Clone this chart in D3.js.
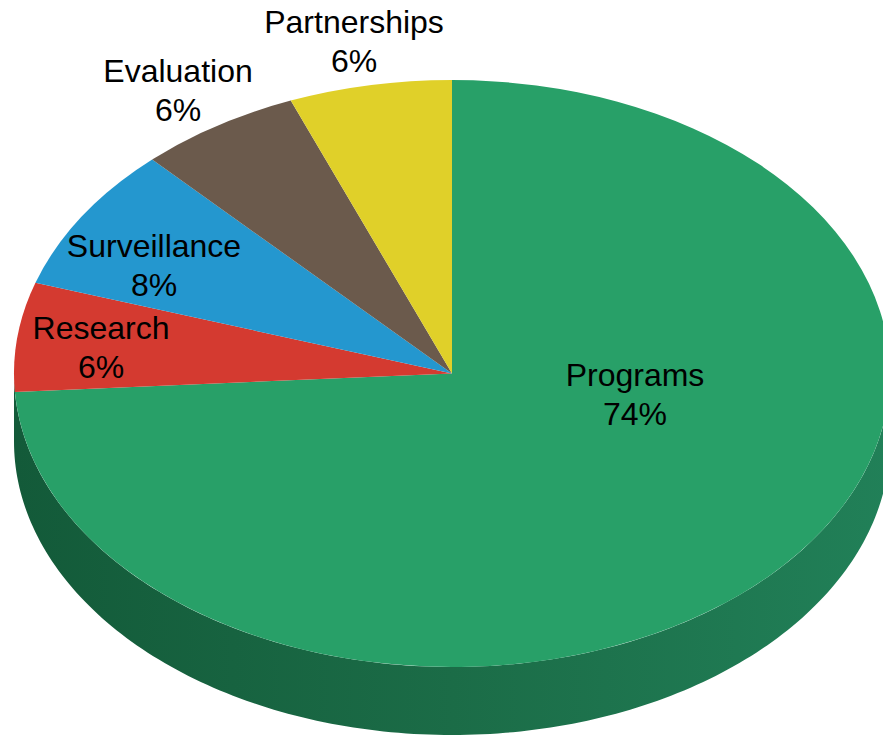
<!DOCTYPE html>
<html>
<head>
<meta charset="utf-8">
<script src="https://cdn.jsdelivr.net/npm/d3@7"></script>
<style>
  html, body { margin: 0; padding: 0; background: #fff; overflow: hidden; }
  text { font-family: "Liberation Sans", Arial, sans-serif; font-size: 32px; fill: #000; }
</style>
</head>
<body>
<div id="chart"></div>
<script>
// chart data, clockwise from the top
var categories = ["Programs", "Research", "Surveillance", "Evaluation", "Partnerships"];
var shares = [74, 6, 8, 6, 6];
var shareLabels = ["74%", "6%", "8%", "6%", "6%"];
var sliceColors = ["#28a068", "#d43a30", "#2497cf", "#6b5a4c", "#e0d029"];

var width = 883, height = 735;
var cx = 452, cy = 373.5;        // pie centre
var rx = 438, ry = 293.5;        // tilted disc radii
var depth = 68;                  // height of the side wall

// label anchors, offset from the pie centre in pixels
var labelOffsets = [[183, 2], [-351, -44.5], [-298, -126.5], [-274, -301.5], [-98, -350.5]];

var svg = d3.select("#chart")
  .append("svg")
  .attr("width", width)
  .attr("height", height);

// side wall shading
var grad = svg.append("defs").append("linearGradient")
  .attr("id", "wall")
  .attr("gradientUnits", "userSpaceOnUse")
  .attr("x1", cx - rx).attr("x2", cx + rx)
  .attr("y1", 0).attr("y2", 0);
grad.append("stop").attr("offset", "0").attr("stop-color", "#135a39");
grad.append("stop").attr("offset", "0.5").attr("stop-color", "#1b6c47");
grad.append("stop").attr("offset", "1").attr("stop-color", "#218058");

// wall = lower half of the ellipse, extruded down
var wall = d3.area()
  .x(function (a) { return cx + rx * Math.cos(a); })
  .y0(function (a) { return cy + ry * Math.sin(a); })
  .y1(function (a) { return cy + ry * Math.sin(a) + depth; });

svg.append("path")
  .attr("d", wall(d3.range(0, 181).map(function (deg) { return deg * Math.PI / 180; })))
  .attr("fill", "url(#wall)");

// the pie goes clockwise from 12 o'clock; a y scale squashes it into the ellipse
var pie = d3.pie().sort(null);
var arc = d3.arc().innerRadius(0).outerRadius(rx);

svg.append("g")
  .attr("transform", "translate(" + cx + "," + cy + ") scale(1," + (ry / rx) + ")")
  .selectAll("path")
  .data(pie(shares))
  .enter()
  .append("path")
  .attr("d", arc)
  .attr("fill", function (d, i) { return sliceColors[i]; });

// two line labels
var labels = svg.append("g")
  .selectAll("text")
  .data(categories)
  .enter()
  .append("text")
  .attr("text-anchor", "middle")
  .attr("transform", function (d, i) {
    return "translate(" + (cx + labelOffsets[i][0]) + "," + (cy + labelOffsets[i][1]) + ")";
  });

labels.append("tspan").attr("x", 0).attr("y", 10).text(function (d) { return d; });
labels.append("tspan").attr("x", 0).attr("y", 49).text(function (d, i) { return shareLabels[i]; });
</script>
</body>
</html>
